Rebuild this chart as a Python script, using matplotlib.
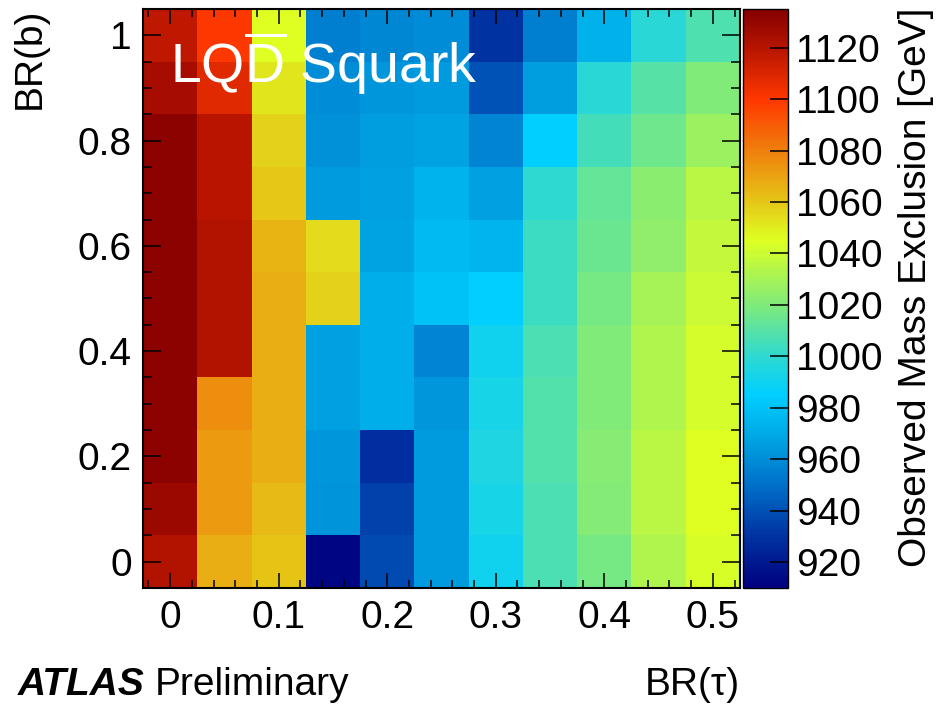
import numpy as np
import matplotlib
matplotlib.use("Agg")
import matplotlib.pyplot as plt
from matplotlib.colors import LinearSegmentedColormap, Normalize

plt.rcParams['font.family'] = ['Liberation Sans', 'DejaVu Sans']
plt.rcParams['mathtext.fontset'] = 'custom'
plt.rcParams['mathtext.rm'] = 'Liberation Sans'
plt.rcParams['mathtext.it'] = 'Liberation Sans:italic'

# BR(tau) bin centres (columns) and BR(b) bin centres (rows)
br_tau = [0.0, 0.05, 0.10, 0.15, 0.20, 0.25, 0.30, 0.35, 0.40, 0.45, 0.50]
br_b = [0.0, 0.1, 0.2, 0.3, 0.4, 0.5, 0.6, 0.7, 0.8, 0.9, 1.0]

# Observed mass exclusion [GeV], one row per BR(b) value (bottom to top)
row_00 = [1121, 1067, 1061, 912, 938, 965, 990, 1007, 1018, 1033, 1043]
row_01 = [1128, 1072, 1063, 962, 935, 965, 993, 1007, 1021, 1035, 1045]
row_02 = [1133, 1072, 1067, 963, 928, 965, 995, 1009, 1022, 1035, 1045]
row_03 = [1133, 1076, 1067, 967, 972, 963, 993, 1009, 1020, 1033, 1042]
row_04 = [1133, 1121, 1067, 967, 972, 957, 990, 1007, 1020, 1033, 1042]
row_05 = [1133, 1121, 1067, 1057, 972, 980, 985, 1004, 1018, 1030, 1040]
row_06 = [1133, 1121, 1065, 1055, 968, 976, 975, 1004, 1015, 1025, 1038]
row_07 = [1133, 1120, 1060, 965, 967, 974, 967, 1000, 1013, 1023, 1035]
row_08 = [1133, 1120, 1057, 961, 966, 968, 957, 985, 1005, 1016, 1027]
row_09 = [1125, 1108, 1052, 960, 963, 965, 940, 966, 998, 1010, 1020]
row_10 = [1118, 1100, 1045, 955, 958, 960, 930, 955, 973, 998, 1008]

cbar_ticks = [920, 940, 960, 980, 1000, 1020, 1040, 1060, 1080, 1100, 1120]
x_ticks = [0, 0.1, 0.2, 0.3, 0.4, 0.5]
x_ticklabels = ['0', '0.1', '0.2', '0.3', '0.4', '0.5']
y_ticks = [0, 0.2, 0.4, 0.6, 0.8, 1.0]
y_ticklabels = ['0', '0.2', '0.4', '0.6', '0.8', '1']

z = np.array([row_00, row_01, row_02, row_03, row_04, row_05,
              row_06, row_07, row_08, row_09, row_10], dtype=float)

vmin, vmax = 910, 1135
nodes = [
    (910, (0.00, 0.00, 0.50)),
    (930, (0.00, 0.20, 0.64)),
    (950, (0.00, 0.44, 0.79)),
    (970, (0.00, 0.67, 0.90)),
    (985, (0.00, 0.81, 1.00)),
    (1000, (0.18, 0.85, 0.82)),
    (1020, (0.50, 0.92, 0.48)),
    (1045, (0.87, 1.00, 0.13)),
    (1060, (0.90, 0.78, 0.09)),
    (1080, (0.94, 0.50, 0.05)),
    (1100, (1.00, 0.22, 0.00)),
    (1120, (0.72, 0.08, 0.00)),
    (1135, (0.52, 0.00, 0.00)),
]
cmap = LinearSegmentedColormap.from_list(
    'rootpal', [((v - vmin) / (vmax - vmin), c) for v, c in nodes], N=256)

FS = 28

fig = plt.figure(figsize=(9.37, 7.04), dpi=100)
ax = fig.add_axes([143/937, 1-588/704, (740-143)/937, (588-9)/704])
cax = fig.add_axes([743/937, 1-588/704, (788-743)/937, (588-9)/704])

xs = np.array(br_tau)
ys = np.array(br_b)
xedges = np.concatenate([xs - 0.025, [xs[-1] + 0.025]])
yedges = np.concatenate([ys - 0.05, [ys[-1] + 0.05]])
norm = Normalize(vmin=vmin, vmax=vmax)
mesh = ax.pcolormesh(xedges, yedges, z, cmap=cmap, norm=norm, shading='flat')
ax.set_xlim(xedges[0], xedges[-1])
ax.set_ylim(yedges[0], yedges[-1])

ax.set_xticks(x_ticks)
ax.set_xticklabels(x_ticklabels)
ax.set_yticks(y_ticks)
ax.set_yticklabels(y_ticklabels)
ax.set_xticks(np.arange(-0.02, 0.525, 0.02), minor=True)
ax.set_yticks(np.arange(-0.05, 1.051, 0.05), minor=True)
ax.tick_params(axis='both', which='both', direction='in', top=True, right=True,
               labelsize=FS, width=1.1, color='black')
ax.tick_params(axis='x', which='major', length=11, pad=9)
ax.tick_params(axis='x', which='minor', length=5.5)
ax.tick_params(axis='y', which='major', length=13, pad=8)
ax.tick_params(axis='y', which='minor', length=6.5)
for s in ax.spines.values():
    s.set_linewidth(1.5)

cb = fig.colorbar(mesh, cax=cax, ticks=cbar_ticks)
cax.tick_params(axis='y', direction='in', length=13, width=1.1, labelsize=FS, pad=6)
cax.minorticks_off()
cb.outline.set_linewidth(1.0)

# Labels
ax.text(170/937, 1-83/704, r'LQ$\overline{\mathrm{D}}$ Squark', transform=fig.transFigure,
        color='white', fontsize=40, ha='left', va='baseline')
fig.text(30/937, 1-8/704, 'BR(b)', rotation=90, ha='center', va='top', fontsize=FS)
fig.text(740/937, 1-695/704, 'BR(τ)', ha='right', va='baseline', fontsize=FS)
fig.text(916/937, 1-8/704, 'Observed Mass Exclusion [GeV]', rotation=90,
         ha='center', va='top', fontsize=FS)
t1 = fig.text(18/937, 1-695/704, 'ATLAS', ha='left', va='baseline', fontsize=FS,
              fontweight='bold', fontstyle='italic')
fig.canvas.draw()
bb = t1.get_window_extent()
fig.text((bb.x1 + 10)/937, 1-695/704, 'Preliminary', ha='left', va='baseline', fontsize=FS)

fig.savefig('out.png', dpi=100)
